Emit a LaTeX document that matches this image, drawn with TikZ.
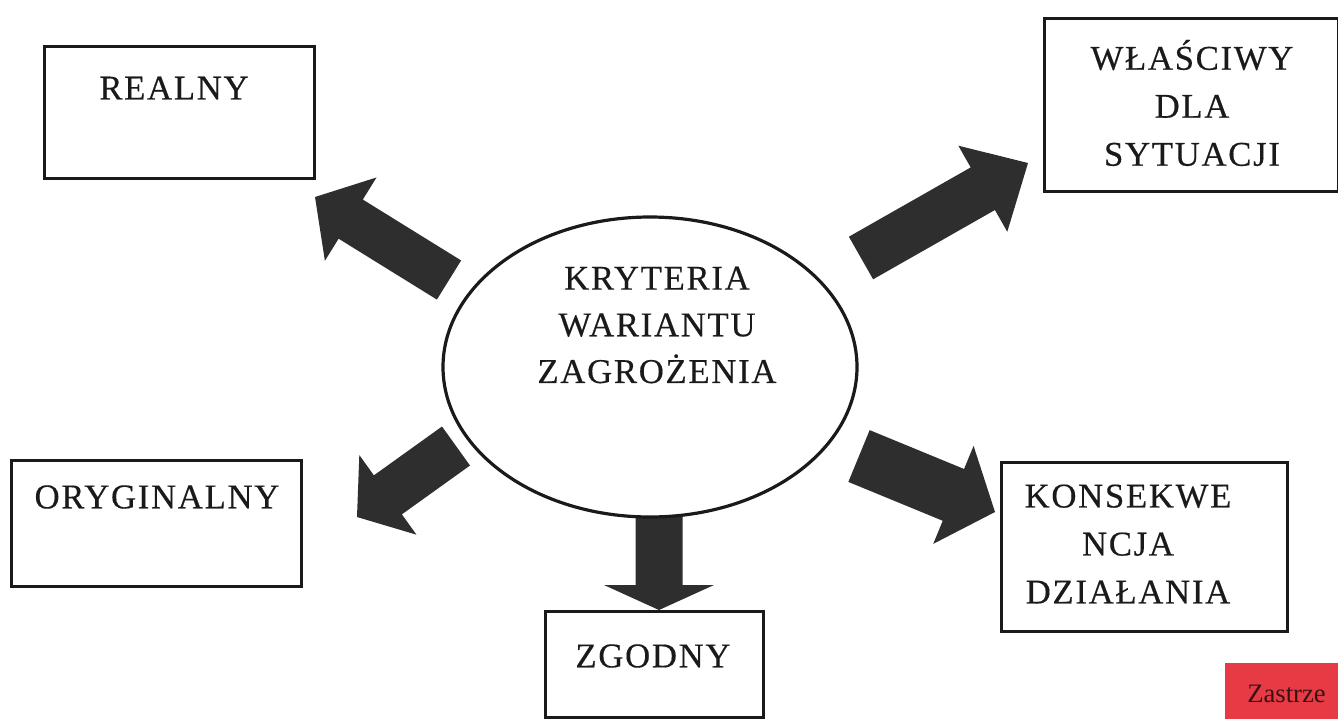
\documentclass[tikz,border=0pt]{standalone}
\usepackage{fontspec}
\setmainfont{Liberation Serif}[LetterSpace=5, FakeBold=0.4]
\newfontfamily\stampfont{Liberation Serif}
\usetikzlibrary{calc,shapes.geometric}

% one drawing unit = one pixel of the sheet
\newcommand{\pxu}{0.75pt}

\definecolor{ink}{HTML}{1A1A1A}
\definecolor{arrowgray}{HTML}{2E2E2E}
\definecolor{stampred}{HTML}{E63A44}
\definecolor{stampink}{HTML}{3A1214}

\tikzset{
  box/.style={draw=ink, line width=2.3pt, anchor=north west, inner sep=0pt},
  lbl/.style={text=ink, align=center, inner sep=0pt,
              font=\fontsize{26}{36}\selectfont},
  arrowfill/.style={fill=arrowgray},
}

% block arrow: #1 tail, #2 tip, #3 half shaft width, #4 half head width, #5 head length (px)
\newcommand{\blockarrow}[5]{%
  \path ($(#2)!#5*\pxu!(#1)$) coordinate (hb);
  \fill[arrowfill]
    ($(#1)!#3*\pxu!90:(#2)$) -- ($(hb)!#3*\pxu!90:(#2)$) --
    ($(hb)!#4*\pxu!90:(#2)$) -- (#2) --
    ($(hb)!#4*\pxu!-90:(#2)$) -- ($(hb)!#3*\pxu!-90:(#2)$) --
    ($(#1)!#3*\pxu!-90:(#2)$) -- cycle;
}

\begin{document}
\begin{tikzpicture}[x=0.75pt, y=-0.75pt]
\fill[white] (0,0) rectangle (1338,718);
\useasboundingbox (0,0) rectangle (1338,718);

% arrow ends
\coordinate (ul-t) at (449,280);  \coordinate (ul-h) at (315,197);
\coordinate (ur-t) at (861,258);  \coordinate (ur-h) at (1028,163);
\coordinate (ll-t) at (456,446);  \coordinate (ll-h) at (357,517);
\coordinate (lr-t) at (859,456);  \coordinate (lr-h) at (995,512);
\coordinate (dn-t) at (659,516);  \coordinate (dn-h) at (659,610);

% the five block arrows leaving the centre
\blockarrow{ul-t}{ul-h}{23}{49}{42}
\blockarrow{ur-t}{ur-h}{24.5}{49.5}{52}
\blockarrow{ll-t}{ll-h}{24}{49}{38}
\blockarrow{lr-t}{lr-h}{28}{53}{45}
\blockarrow{dn-t}{dn-h}{23.5}{55}{25}

% centre ellipse
\node[draw=ink, line width=2.4pt, ellipse, inner sep=0pt,
      minimum width=414*\pxu, minimum height=300*\pxu] (kryt) at (650,367) {};
\node[lbl, font=\fontsize{26}{35}\selectfont] (t-kryt) at (657,325)
  {KRYTERIA\\WARIANTU\\ZAGROŻENIA};

% surrounding boxes
\node[box, minimum width=270*\pxu, minimum height=132*\pxu] (realny) at (43,45) {};
\node[box, minimum width=294*\pxu, minimum height=173*\pxu] (wlasc) at (1043,17) {};
\node[box, minimum width=290*\pxu, minimum height=126*\pxu] (oryg) at (10,459) {};
\node[box, minimum width=218*\pxu, minimum height=106*\pxu] (zgod) at (544,610) {};
\node[box, minimum width=286*\pxu, minimum height=169*\pxu] (kons) at (1000,461) {};

\node[lbl] (t-realny) at (174,88) {REALNY};
\node[lbl] (t-wlasc) at (1192,103) {WŁAŚCIWY\\DLA\\SYTUACJI};
\node[lbl] (t-oryg) at (157,497) {ORYGINALNY};
\node[lbl] (t-zgod) at (653,656) {ZGODNY};
\node[lbl] (t-kons) at (1128,544) {KONSEKWE\\NCJA\\DZIAŁANIA};

% red stamp in the corner
\begin{scope}
  \clip (0,0) rectangle (1338,718);
  \fill[stampred] (1225,663) rectangle (1345,725);
  \node[anchor=base west, inner sep=0pt, text=stampink,
        font=\stampfont\fontsize{20}{24}\selectfont] (stamp) at (1247,702) {Zastrze};
\end{scope}
\end{tikzpicture}
\end{document}
